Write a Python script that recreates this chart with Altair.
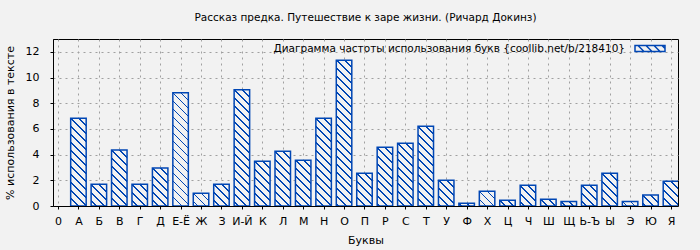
import json
import altair as alt
import pandas as pd

# ---- data ----
letters = ["А", "Б", "В", "Г", "Д", "Е-Ё", "Ж", "З", "И-Й", "К",
           "Л", "М", "Н", "О", "П", "Р", "С", "Т", "У", "Ф",
           "Х", "Ц", "Ч", "Ш", "Щ", "Ь-Ъ", "Ы", "Э", "Ю", "Я"]
values = [6.83, 1.69, 4.36, 1.70, 2.96, 8.81, 0.99, 1.70, 9.04, 3.48,
          4.26, 3.56, 6.83, 11.35, 2.55, 4.57, 4.88, 6.21, 2.00, 0.21,
          1.14, 0.44, 1.61, 0.52, 0.36, 1.61, 2.55, 0.36, 0.86, 1.92]
tick_labels = ["0"] + letters
y_ticks = [0, 2, 4, 6, 8, 10, 12]

title_text = "Рассказ предка. Путешествие к заре жизни. (Ричард Докинз)"
legend_text = "Диаграмма частоты использования букв {coollib.net/b/218410}"
x_title = "Буквы"
y_title = "% использования в тексте"

# ---- styling ----
W, H = 625, 167
XMAX, YMAX = 30.1, 13
BAR = 15.5
BLUE = "#0046b4"
BG = "#f2f2f2"
GRID = "#a0a0a0"
FONT = "DejaVu Sans"

df = pd.DataFrame({"pos": list(range(1, len(letters) + 1)),
                   "letter": letters, "value": values,
                   "series": [legend_text] * len(letters)})


def hatch(v):
    """Diagonal hatch as a linear gradient in the bar's bounding box."""
    w = BAR
    h = max(v / YMAX * H, 0.5)
    k = (w + h) / (w * w + h * h)
    period, thick = 8.0, 1.8
    stops = [{"offset": 0, "color": BG}]
    c = -h + (h % period) - period
    while c <= w + period:
        a = min(max((c - thick / 2 + h) / (w + h), 0), 1)
        b = min(max((c + thick / 2 + h) / (w + h), 0), 1)
        if b > 0 and a < 1:
            stops += [{"offset": a, "color": BG}, {"offset": a, "color": BLUE},
                      {"offset": b, "color": BLUE}, {"offset": b, "color": BG}]
        c += period
    stops.append({"offset": 1, "color": BG})
    return {"gradient": "linear", "x1": 0, "y1": 1,
            "x2": k * w, "y2": 1 - k * h, "stops": stops}


fill_enc = {
    "condition": [{"test": f"datum.pos === {i + 1}", "value": hatch(v)}
                  for i, v in enumerate(values)],
    "value": BG,
}

label_expr = json.dumps(tick_labels, ensure_ascii=False) + "[datum.value]"

swatch = ("M-1,-0.2H1V0.2H-1Z M-0.8,-0.2L-0.4,0.2 M-0.267,-0.2L0.133,0.2 "
          "M0.267,-0.2L0.667,0.2 M0.8,-0.2L1,0")

bars = alt.Chart(df).mark_bar(size=BAR, strokeWidth=1.5, clip=True).encode(
    x=alt.X("pos:Q",
            scale=alt.Scale(domain=[0, XMAX], nice=False, zero=False),
            axis=alt.Axis(values=list(range(len(tick_labels))), labelExpr=label_expr,
                          title=x_title, grid=True, gridDash=[2, 4],
                          gridColor=GRID, tickSize=3, tickColor="black",
                          domainColor="black", labelFontSize=11, labelFont=FONT,
                          labelColor="black", labelPadding=6, labelFlush=False,
                          labelOverlap=False, titleFont=FONT, titleFontSize=11,
                          titleFontWeight="normal", titleColor="black",
                          titlePadding=8)),
    y=alt.Y("value:Q",
            scale=alt.Scale(domain=[0, YMAX], nice=False),
            axis=alt.Axis(values=y_ticks, title=y_title, grid=True,
                          gridDash=[2, 4], gridColor=GRID, tickSize=3,
                          tickColor="black", domainColor="black",
                          labelFontSize=11, labelFont=FONT, labelColor="black",
                          labelPadding=11, titleFont=FONT, titleFontSize=11,
                          titleFontWeight="normal", titleColor="black",
                          titlePadding=10)),
    fill=fill_enc,
    stroke=alt.Stroke("series:N",
                      scale=alt.Scale(range=[BLUE]),
                      legend=alt.Legend(orient="none", legendX=581, legendY=-6.5,
                                        title=None, symbolType=swatch,
                                        symbolSize=900, symbolStrokeWidth=1.5,
                                        symbolFillColor="transparent",
                                        symbolStrokeColor=BLUE,
                                        labelAlign="right",
                                        labelOffset={"expr": "-41"},
                                        labelFont=FONT, labelFontSize=10.5,
                                        labelColor="black", padding=0,
                                        labelLimit=0)),
)

chart = bars.properties(
    width=W, height=H,
    autosize=alt.AutoSizeParams(type="none"),
    padding={"left": 53, "top": 39, "right": 22, "bottom": 44},
    title=alt.TitleParams(title_text, font=FONT, fontSize=10.5,
                          fontWeight="normal", color="black", anchor="middle",
                          offset=9),
).configure(background=BG).configure_view(stroke="black", strokeWidth=1, fill=BG)

chart.save("out.html", embed_options={"renderer": "svg", "actions": False})
